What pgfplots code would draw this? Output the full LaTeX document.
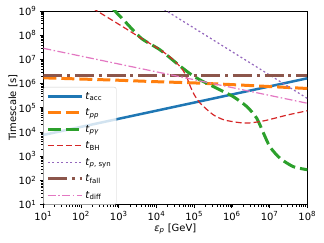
\documentclass[border=0pt]{standalone}
\usepackage{fontspec}
\setmainfont{DejaVu Sans}
\usepackage{pgfplots}
\pgfplotsset{compat=1.18}
\definecolor{tabblue}{HTML}{1F77B4}
\definecolor{taborange}{HTML}{FF7F0E}
\definecolor{tabgreen}{HTML}{2CA02C}
\definecolor{tabred}{HTML}{D62728}
\definecolor{tabpurple}{HTML}{9467BD}
\definecolor{tabbrown}{HTML}{8C564B}
\definecolor{tabpink}{HTML}{E377C2}
\begin{document}
\begin{tikzpicture}
\useasboundingbox (-43.3bp,-38.3bp) rectangle (280.7bp,204.7bp);
\begin{axis}[
  at={(0,0)}, anchor=south west,
  scale only axis, width=264bp, height=193.7bp,
  xmode=log, ymode=log,
  xmin=1e1, xmax=1e8, ymin=1e1, ymax=1e9,
  xtick={1e1,1e2,1e3,1e4,1e5,1e6,1e7,1e8},
  xticklabels={10\textsuperscript{1},10\textsuperscript{2},10\textsuperscript{3},10\textsuperscript{4},10\textsuperscript{5},10\textsuperscript{6},10\textsuperscript{7},10\textsuperscript{8}},
  ytick={1e1,1e2,1e3,1e4,1e5,1e6,1e7,1e8,1e9},
  yticklabels={10\textsuperscript{1},10\textsuperscript{2},10\textsuperscript{3},10\textsuperscript{4},10\textsuperscript{5},10\textsuperscript{6},10\textsuperscript{7},10\textsuperscript{8},10\textsuperscript{9}},
  tick align=outside, tick pos=left,
  major tick length=3.5bp, minor tick length=2bp,
  every major tick/.style={black, line width=0.8bp},
  every minor tick/.style={black, line width=0.6bp},
  axis line style={line width=0.8bp},
  tick label style={font=\fontsize{10}{12}\selectfont},
  label style={font=\fontsize{10}{12}\selectfont},
  xlabel={\textit{ε}\textsubscript{\textit{p}} [GeV]},
  ylabel={Timescale [s]},
  every axis x label/.style={at={(axis description cs:0.5,-0.1358)}, anchor=base},
  every axis y label/.style={at={(axis description cs:-0.1034,0.5)}, rotate=90, anchor=base},
  legend style={at={(0,0)}, anchor=south west, draw=black!20, fill=white, fill opacity=0.8, text opacity=1, rounded corners=2bp, font=\fontsize{10}{12}\selectfont, inner xsep=3bp, inner ysep=3bp, row sep=4bp},
  legend cell align=left,
  legend image code/.code={\draw[#1, line cap=butt] (0bp,0bp) -- (34bp,0bp);},
]
\addplot[tabblue, line width=2.5bp] coordinates {(1e1,7586) (1e8,1.66e6)};
\addlegendentry{\textit{t}\textsubscript{acc}}
\addplot[taborange, line width=3bp, dash pattern=on 13bp off 5bp] coordinates {
(1e1,1.738e6) (1e2,1.549e6) (1e3,1.380e6) (1e4,1.202e6) (1e5,1.072e6) (1e6,9.120e5) (1e7,7.586e5) (1e8,6.310e5)};
\addlegendentry{\textit{t}\textsubscript{\textit{pp}}}
\addplot[tabgreen, line width=3bp, dash pattern=on 13bp off 5bp, smooth, tension=0.4] coordinates {
(707.9,1.259e9) (794.3,1e9) (1479,3.631e8) (3981,7.413e7) (1.259e4,2.455e7) (4.266e4,5.248e6) (7.943e4,2.512e6) (1.445e5,1.413e6) (4.898e5,5.495e5) (1.096e6,2.884e5) (2.512e6,1.122e5) (4.571e6,3.715e4) (6.918e6,8.913e3) (1.023e7,2.455e3) (1.905e7,812.8) (4.266e7,371.5) (8.710e7,288.4) (1e8,281.8)};
\addlegendentry{\textit{t}\textsubscript{\textit{pγ}}}
\addplot[tabred, line width=1.2bp, dash pattern=on 6bp off 3bp, smooth, tension=0.4] coordinates {
(199.5,1.318e9) (524.8,5.248e8) (1479,1.950e8) (3981,7.413e7) (1.259e4,2.512e7) (2.512e4,1.122e7) (3.981e4,5.623e6) (5.012e4,3.631e6) (6.310e4,1.905e6) (7.943e4,7.586e5) (1e5,3.548e5) (1.445e5,1.549e5) (3.162e5,5.248e4) (6.310e5,3.162e4) (1.585e6,2.455e4) (3.162e6,2.399e4) (7.943e6,3.020e4) (2.884e7,5.012e4) (1e8,7.586e4)};
\addlegendentry{\textit{t}\textsubscript{BH}}
\addplot[tabpurple, line width=1.2bp, dash pattern=on 2bp off 2.5bp] coordinates {(1e4,1.82e9) (1e8,2.455e5)};
\addlegendentry{\textit{t}\textsubscript{\textit{p}, syn}}
\addplot[tabbrown, line width=3bp, dash pattern=on 19bp off 4.8bp on 3bp off 4.8bp] coordinates {(1e1,2.25e6) (1e8,2.25e6)};
\addlegendentry{\textit{t}\textsubscript{fall}}
\addplot[tabpink, line width=1.2bp, dash pattern=on 8bp off 2.5bp on 1.5bp off 2.5bp] coordinates {(1e1,2.884e7) (1e8,1.549e5)};
\addlegendentry{\textit{t}\textsubscript{diff}}
\end{axis}
\end{tikzpicture}
\end{document}
